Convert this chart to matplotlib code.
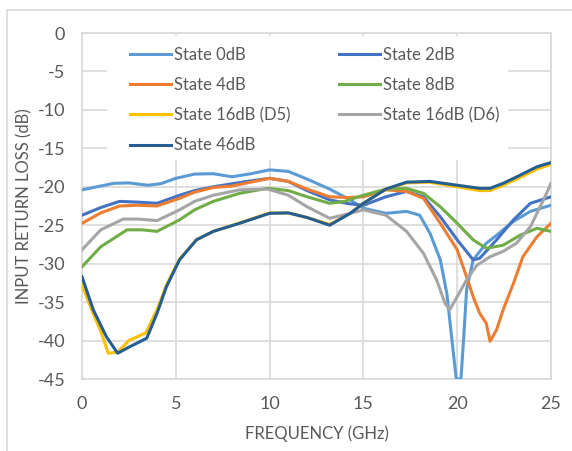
import matplotlib
matplotlib.use("Agg")
import matplotlib.pyplot as plt
from matplotlib.patches import Rectangle

plt.rcParams['font.family'] = ['Lato', 'DejaVu Sans']
plt.rcParams['axes.unicode_minus'] = False

# (frequency GHz, return loss dB), one pair of lists per state
f_0db = [0, 0.8, 1.7, 2.5, 3.5, 4.2, 5.0, 6.0, 7.0, 8.0, 9.0, 10.0, 11.0, 12.0, 13.2, 14.3,
         15.0, 16.2, 17.3, 18.0, 18.55, 19.1, 19.45, 19.7, 19.95, 20.2, 20.35, 20.5, 20.85,
         21.55, 22.1, 23.0, 23.9, 25]
rl_0db = [-20.4, -20.0, -19.55, -19.5, -19.8, -19.6, -18.9, -18.35, -18.3, -18.7, -18.3, -17.8,
          -18.0, -19.0, -20.3, -21.7, -22.8, -23.45, -23.2, -23.7, -26.05, -29.5, -33.9, -39.5,
          -45, -45, -39.5, -33.4, -29.5, -27.35, -26.3, -24.5, -23.2, -22.4]

f_2db = [0, 1.0, 2.0, 3.0, 4.0, 5.2, 6.0, 7.0, 8.8, 10.0, 11.0, 12.0, 13.2, 14.2, 15.0, 16.2,
         17.3, 18.2, 19.1, 20.0, 20.85, 21.2, 22.1, 23.0, 23.9, 25]
rl_2db = [-23.7, -22.7, -21.9, -22.0, -22.15, -21.1, -20.5, -20.0, -19.3, -18.9, -19.3, -20.5,
          -21.7, -22.2, -22.4, -21.3, -20.6, -21.3, -23.9, -26.9, -29.5, -29.3, -26.9, -24.3,
          -22.15, -21.3]

f_4db = [0, 1.0, 2.0, 3.0, 4.0, 5.2, 6.0, 7.0, 8.0, 10.0, 11.0, 12.0, 13.2, 14.2, 15.0, 16.2,
         17.3, 18.2, 19.1, 20.0, 20.5, 20.85, 21.2, 21.55, 21.75, 22.1, 22.45, 23.0, 23.5,
         24.25, 25]
rl_4db = [-24.75, -23.4, -22.5, -22.4, -22.5, -21.5, -20.7, -20.1, -19.9, -18.9, -19.3, -20.3,
          -21.3, -21.4, -21.3, -20.4, -20.6, -21.5, -24.75, -28.2, -31.7, -34.3, -36.45, -37.75,
          -40.1, -38.6, -36.0, -32.55, -29.1, -26.5, -24.75]

f_8db = [0, 1.0, 2.4, 3.2, 4.0, 5.2, 6.0, 7.0, 8.4, 9.9, 11.0, 12.0, 13.2, 14.0, 15.0, 16.2,
         17.3, 18.2, 19.1, 20.0, 20.85, 21.55, 22.45, 23.35, 24.25, 25]
rl_8db = [-30.4, -27.8, -25.6, -25.6, -25.8, -24.3, -23.0, -21.9, -20.85, -20.2, -20.5, -21.3,
          -22.15, -21.9, -21.1, -20.3, -20.2, -20.85, -22.6, -24.75, -26.9, -28.0, -27.6, -26.3,
          -25.4, -25.8]

f_16d5 = [0, 0.6, 1.0, 1.4, 1.9, 2.5, 3.4, 4.0, 4.5, 5.2, 6.1, 7.0, 8.4, 10.0, 11.0, 12.0,
          13.2, 14.3, 15.0, 16.2, 17.3, 18.5, 20.0, 21.2, 21.75, 22.45, 23.35, 24.25, 25]
rl_16d5 = [-32.8, -36.5, -38.8, -41.65, -41.5, -40.0, -39.0, -36.0, -32.8, -29.4, -26.9, -25.8,
           -24.7, -23.4, -23.4, -24.0, -24.9, -23.45, -22.15, -20.3, -19.5, -19.4, -20.0, -20.5,
           -20.5, -19.8, -18.8, -17.7, -17.1]

f_16d6 = [0, 1.0, 2.2, 3.0, 4.0, 5.2, 6.0, 7.0, 8.4, 9.9, 11.0, 12.0, 13.2, 14.3, 15.0, 16.2,
          17.3, 18.2, 18.9, 19.35, 19.6, 20.0, 20.5, 21.05, 21.75, 22.45, 23.15, 23.9, 24.6, 25]
rl_16d6 = [-28.2, -25.6, -24.2, -24.2, -24.4, -23.0, -21.9, -21.1, -20.4, -20.3, -21.1, -22.6,
           -24.1, -23.45, -23.0, -23.7, -25.8, -28.65, -32.1, -35.15, -36.0, -34.3, -32.1, -30.2,
           -29.1, -28.4, -27.35, -25.2, -21.7, -19.55]

f_46db = [0, 0.6, 1.3, 1.9, 2.55, 3.45, 4.0, 4.5, 5.2, 6.1, 7.0, 8.4, 10.0, 11.0, 12.0, 13.2,
          14.3, 15.0, 16.2, 17.3, 18.55, 20.0, 21.2, 21.75, 22.45, 23.35, 24.25, 25]
rl_46db = [-31.7, -36.0, -39.5, -41.65, -40.8, -39.7, -36.45, -33.0, -29.5, -26.9, -25.8, -24.75,
           -23.45, -23.4, -24.0, -25.0, -23.45, -22.15, -20.3, -19.4, -19.3, -19.8, -20.2, -20.2,
           -19.55, -18.5, -17.4, -16.85]

series = [
    ("State 0dB", f_0db, rl_0db, "#5B9BD5"),
    ("State 2dB", f_2db, rl_2db, "#4472C4"),
    ("State 4dB", f_4db, rl_4db, "#ED7D31"),
    ("State 8dB", f_8db, rl_8db, "#70AD47"),
    ("State 16dB (D5)", f_16d5, rl_16d5, "#FFC000"),
    ("State 16dB (D6)", f_16d6, rl_16d6, "#A5A5A5"),
    ("State 46dB", f_46db, rl_46db, "#255E91"),
]

fig = plt.figure(figsize=(5.72, 4.51), dpi=100)
ax = fig.add_axes([82 / 572, 1 - 379 / 451, 469 / 572, 346 / 451])

# chart area border like the Excel frame
fig.patches.append(Rectangle((7 / 572, -0.1), 1.2, 1 - 10 / 451 + 0.1, transform=fig.transFigure,
                             fill=False, edgecolor="#D9D9D9", lw=1.2))

lines = []
for label, f, rl, c in series:
    ln, = ax.plot(f, rl, color=c, lw=2.2, label=label, zorder=3)
    lines.append(ln)

ax.set_xlim(0, 25)
ax.set_ylim(-45, 0)
ax.set_xticks(range(0, 26, 5))
ax.set_yticks(range(-45, 1, 5))
ax.set_axisbelow(True)
ax.grid(True, color="#D9D9D9", lw=1.2)
for s in ax.spines.values():
    s.set_color("#D9D9D9")
    s.set_linewidth(1.2)
ax.tick_params(length=0, labelsize=13, colors="#595959")
ax.tick_params(axis="y", pad=12)
ax.tick_params(axis="x", pad=12)

ax.set_xlabel("FREQUENCY (GHz)", fontsize=12, color="#595959", labelpad=10)
ax.set_ylabel("INPUT RETURN LOSS (dB)", fontsize=12, color="#595959", labelpad=4)

# white legend area hides the gridlines behind it
ax.add_patch(Rectangle((25 / 469, 1 - 127 / 346), 401 / 469, 124 / 346, transform=ax.transAxes,
                       facecolor="white", edgecolor="none", zorder=1))

# legend fills row by row like Excel
order = [0, 2, 4, 6, 1, 3, 5]
ax.legend([lines[i] for i in order], [series[i][0] for i in order],
          loc="upper left", bbox_to_anchor=(0.102, 0.96), ncol=2, frameon=False,
          fontsize=12, handlelength=2.45, handletextpad=0.2, columnspacing=2.9,
          labelspacing=0.85, borderpad=0, borderaxespad=0, labelcolor="#595959")

fig.savefig("out.png", dpi=100)
